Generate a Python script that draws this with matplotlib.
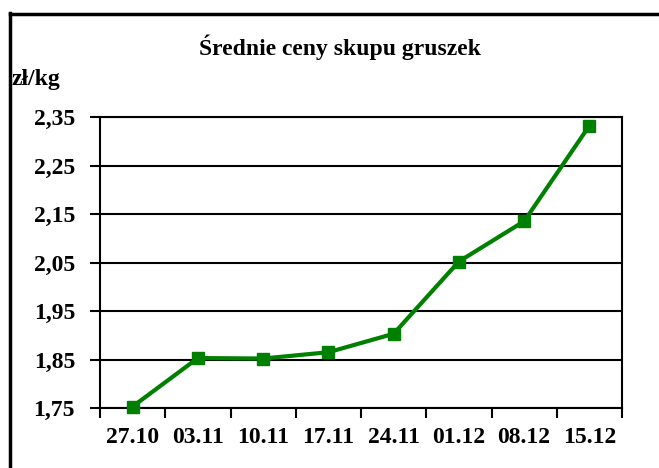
import matplotlib
matplotlib.use("Agg")
import matplotlib.pyplot as plt
from matplotlib.lines import Line2D

categories = ["27.10", "03.11", "10.11", "17.11", "24.11", "01.12", "08.12", "15.12"]
prices = [1.753, 1.853, 1.852, 1.865, 1.903, 2.052, 2.135, 2.332]
yticks = [1.75, 1.85, 1.95, 2.05, 2.15, 2.25, 2.35]
ytick_labels = ["1,75", "1,85", "1,95", "2,05", "2,15", "2,25", "2,35"]

plt.rcParams['font.family'] = ['Liberation Serif', 'DejaVu Serif']
plt.rcParams['font.weight'] = 'bold'

W, H = 659, 468
fig = plt.figure(figsize=(W/100, H/100), dpi=100)
ax = fig.add_axes([100/W, 1-408/H, 522/W, 291/H])

x = list(range(len(categories)))
ax.plot(x, prices, color='#008000', lw=3, marker='s', ms=9, mec='#008000', mfc='#008000', zorder=5, clip_on=False)

ax.set_xlim(-0.5, len(categories)-0.5)
ax.set_ylim(1.75, 2.35)
ax.set_yticks(yticks)
ax.set_yticklabels(ytick_labels, fontsize=17, fontweight='bold')
ax.set_xticks(x)
ax.set_xticklabels(categories, fontsize=17, fontweight='bold')
ax.tick_params(axis='x', length=0, pad=14)
ax.set_xticks([i-0.5 for i in range(len(categories)+1)], minor=True)
ax.tick_params(axis='x', which='minor', length=7, width=1.5, direction='out')
ax.tick_params(axis='y', length=7, width=1.5, direction='out', pad=11)
ax.yaxis.grid(True, color='black', lw=1.5)
ax.set_axisbelow(True)
for s in ax.spines.values():
    s.set_linewidth(1.5)
    s.set_color('black')

fig.text(340/W, 1-47/H, "Średnie ceny skupu gruszek", ha='center', va='center', fontsize=17, fontweight='bold')
fig.text(12/W, 1-80/H, "zł/kg", ha='left', va='center', fontsize=17, fontweight='bold')

fig.add_artist(Line2D([9.5/W, 9.5/W], [0, 1-13/H], color='black', lw=2.5, transform=fig.transFigure))
fig.add_artist(Line2D([9.5/W, 1], [1-13.5/H, 1-13.5/H], color='black', lw=2.5, transform=fig.transFigure))

fig.savefig("out.png", dpi=100)
